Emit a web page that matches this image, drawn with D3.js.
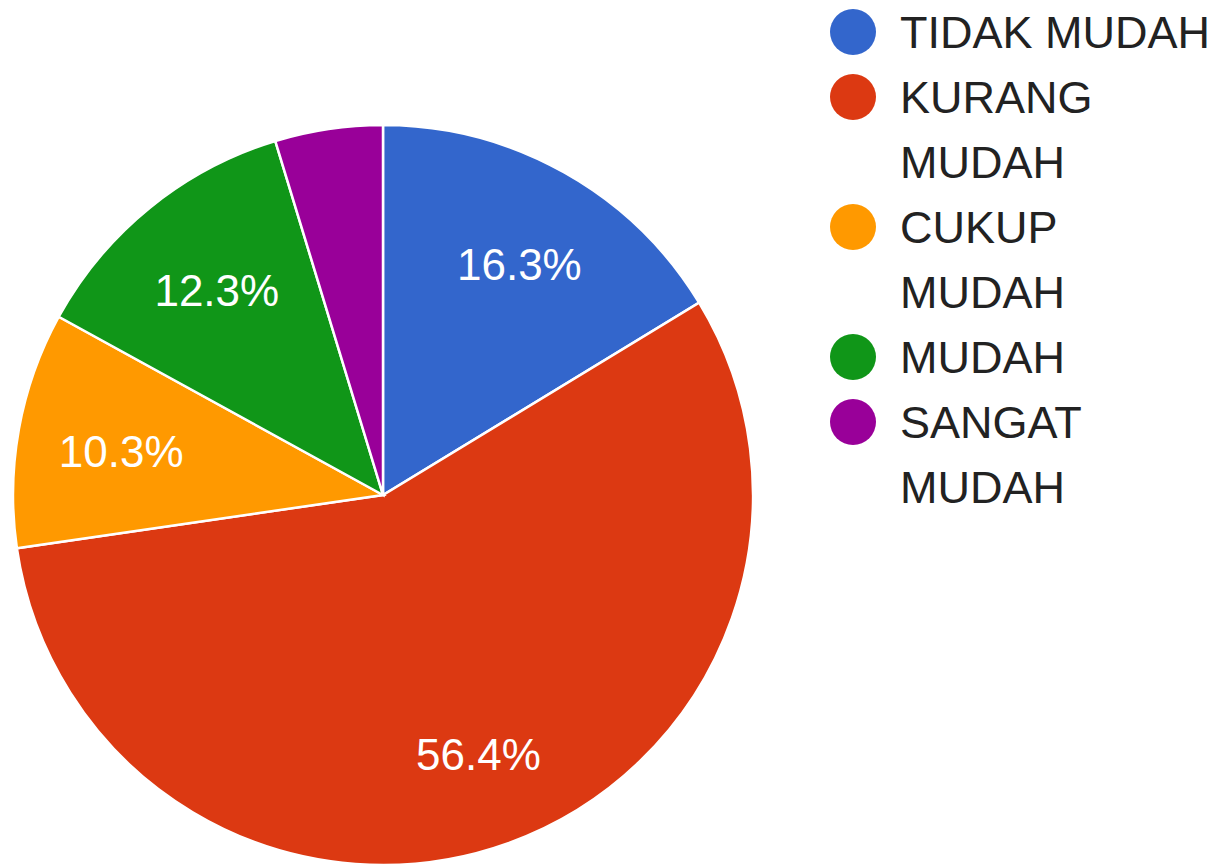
<!DOCTYPE html>
<html lang="en">
<head>
    <meta charset="UTF-8">
    <title>Pie</title>
    <style>
        body { margin: 0; background: #fff; }
        text { font-family: "Liberation Sans", Arial, sans-serif; }
    </style>
</head>
<body>
    <div id="pie-chart"></div>

    <script src="https://d3js.org/d3.v7.min.js"></script>
    <script>
        // Data
        var categories = ["TIDAK MUDAH", "KURANG MUDAH", "CUKUP MUDAH", "MUDAH", "SANGAT MUDAH"];
        var values = [16.3, 56.4, 10.3, 12.3, 4.7];
        var colors = ["#3366cc", "#dc3912", "#ff9900", "#109618", "#990099"];

        var width = 1231, height = 867;
        var cx = 383, cy = 495, radius = 370;

        var svg = d3.select("#pie-chart")
            .append("svg")
            .attr("width", width)
            .attr("height", height);

        var data = categories.map(function (c, i) {
            return { name: c, value: values[i], color: colors[i] };
        });

        var pie = d3.pie()
            .sort(null)
            .value(function (d) { return d.value; });

        var arc = d3.arc().innerRadius(0).outerRadius(radius);
        var labelArc = d3.arc().innerRadius(radius * 0.73).outerRadius(radius * 0.73);

        var g = svg.append("g")
            .attr("transform", "translate(" + cx + "," + cy + ")");

        var arcs = pie(data);

        g.selectAll("path")
            .data(arcs)
            .enter()
            .append("path")
            .attr("d", arc)
            .attr("fill", function (d) { return d.data.color; })
            .attr("stroke", "#fff")
            .attr("stroke-width", 2.5);

        // percentage labels (small slices get none)
        g.selectAll("text.pct")
            .data(arcs.filter(function (d) { return d.data.value >= 5; }))
            .enter()
            .append("text")
            .attr("class", "pct")
            .attr("transform", function (d) {
                var c = labelArc.centroid(d);
                return "translate(" + (c[0] + 4) + "," + (c[1] + 5) + ")";
            })
            .attr("text-anchor", "middle")
            .attr("dominant-baseline", "central")
            .attr("fill", "#fff")
            .attr("font-size", 44)
            .text(function (d) { return d.data.value.toFixed(1) + "%"; });

        // Legend
        var legendX = 853, textX = 900, lineH = 65, maxW = 330;
        var y = 32;
        var legend = svg.append("g");

        data.forEach(function (d) {
            legend.append("circle")
                .attr("cx", legendX)
                .attr("cy", y)
                .attr("r", 23)
                .attr("fill", d.color);

            // wrap words to fit the legend width
            var words = d.name.split(" ");
            var line = [];
            var t = legend.append("text")
                .attr("x", textX).attr("y", y)
                .attr("dominant-baseline", "central")
                .attr("font-size", 45)
                .attr("fill", "#222");
            words.forEach(function (w) {
                line.push(w);
                t.text(line.join(" "));
                if (t.node().getComputedTextLength() > maxW && line.length > 1) {
                    line.pop();
                    t.text(line.join(" "));
                    y += lineH;
                    line = [w];
                    t = legend.append("text")
                        .attr("x", textX).attr("y", y)
                        .attr("dominant-baseline", "central")
                        .attr("font-size", 45)
                        .attr("fill", "#222")
                        .text(w);
                }
            });
            y += lineH;
        });
    </script>
</body>
</html>
